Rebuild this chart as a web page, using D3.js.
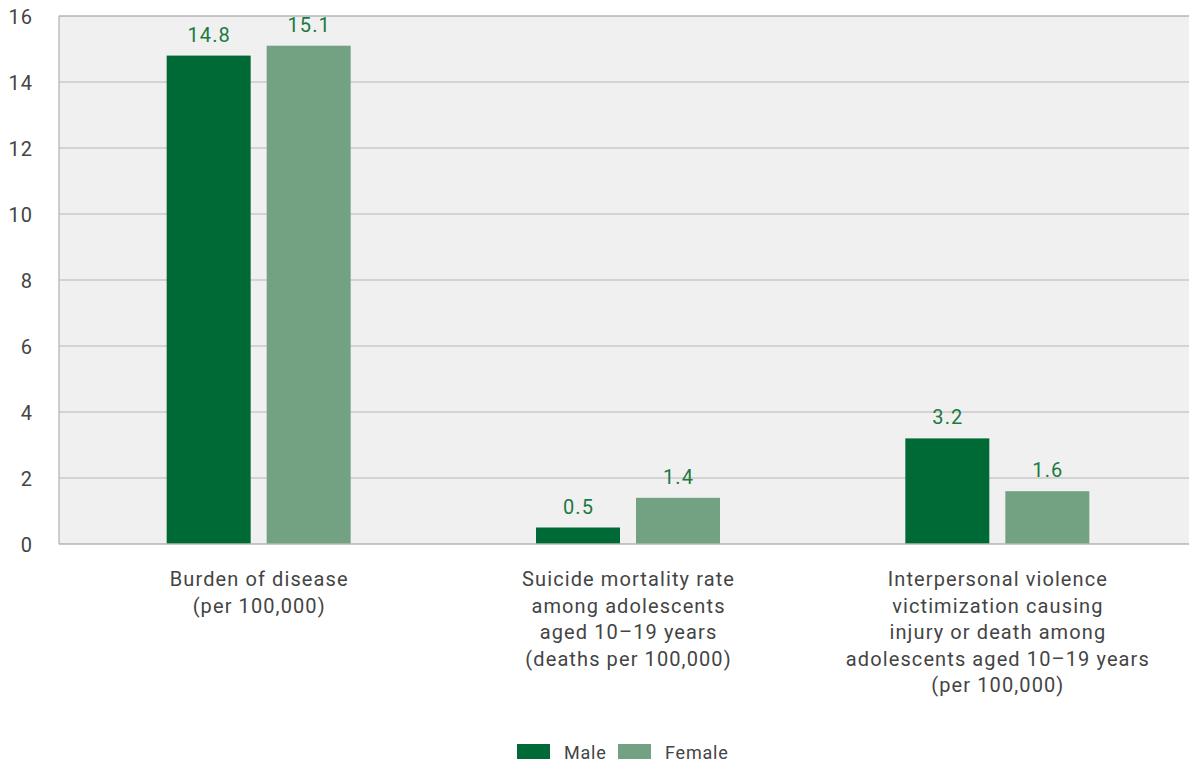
<!DOCTYPE html>
<html><head><meta charset="utf-8">
<script src="https://cdn.jsdelivr.net/npm/d3@7"></script>
<style>
html,body{margin:0;padding:0;background:#fff;}
svg{display:block;font-family:Roboto,"Liberation Sans",sans-serif;}
</style></head>
<body><svg id="c" width="1189" height="762"></svg>
<script>
const categories = [
  ["Burden of disease","(per 100,000)"],
  ["Suicide mortality rate","among adolescents","aged 10\u201319 years","(deaths per 100,000)"],
  ["Interpersonal violence","victimization causing","injury or death among","adolescents aged 10\u201319 years","(per 100,000)"]
];
const series = ["Male","Female"];
const maleValues = [14.8, 0.5, 3.2];
const femaleValues = [15.1, 1.4, 1.6];
const yTicks = [0,2,4,6,8,10,12,14,16];

const colors = {Male:"#006a37", Female:"#73a283"};
const labelColor = "#1a7a42";
const textColor = "#444";
const LS = 1.1;
const FS = 20;

const svg = d3.select("#c");
const plot = {left:59, right:1189, top:16, bottom:544};

const y = d3.scaleLinear().domain([0,16]).range([plot.bottom, plot.top]);
const x0 = d3.scaleBand().domain(d3.range(categories.length)).range([74,1182]);
const x1 = d3.scaleBand().domain(series).range([-92,92]).paddingInner(0.16);

// background
svg.append("rect").attr("x",plot.left).attr("y",plot.top)
  .attr("width",plot.right-plot.left).attr("height",plot.bottom-plot.top)
  .attr("fill","#f0f0f0");

// gridlines
svg.append("g").selectAll("line").data(yTicks.filter(t=>t>0 && t<16)).join("line")
  .attr("x1",plot.left).attr("x2",plot.right)
  .attr("y1",d=>y(d)).attr("y2",d=>y(d))
  .attr("stroke","#cacaca").attr("stroke-width",1.3);

// top & left border
svg.append("line").attr("x1",plot.left).attr("x2",plot.right).attr("y1",plot.top).attr("y2",plot.top)
  .attr("stroke","#b5b5b5").attr("stroke-width",1.3);
svg.append("line").attr("x1",plot.left).attr("x2",plot.left).attr("y1",plot.top).attr("y2",plot.bottom)
  .attr("stroke","#b5b5b5").attr("stroke-width",1.3);

// y axis labels
const yAxis = d3.axisLeft(y).tickValues(yTicks).tickSize(0).tickPadding(0).tickFormat(d3.format("d"));
const ya = svg.append("g").attr("transform",`translate(${32+LS},0)`).call(yAxis);
ya.select(".domain").remove();
ya.selectAll("text").attr("font-size",FS).attr("fill",textColor).attr("letter-spacing",LS)
  .attr("font-family","Roboto, 'Liberation Sans', sans-serif").attr("dy","0.35em");

// bars
const data = [];
categories.forEach((c,i)=>{
  data.push({i, s:"Male", v:maleValues[i]});
  data.push({i, s:"Female", v:femaleValues[i]});
});
const cx = i => x0(i) + x0.bandwidth()/2;
svg.append("g").selectAll("rect").data(data).join("rect")
  .attr("x",d=>cx(d.i)+x1(d.s)).attr("width",x1.bandwidth())
  .attr("y",d=>y(d.v)).attr("height",d=>y(0)-y(d.v))
  .attr("fill",d=>colors[d.s]);

// baseline
svg.append("line").attr("x1",plot.left).attr("x2",plot.right).attr("y1",plot.bottom).attr("y2",plot.bottom)
  .attr("stroke","#b5b5b5").attr("stroke-width",1.5);

// value labels
svg.append("g").selectAll("text").data(data).join("text")
  .attr("x",d=>cx(d.i)+x1(d.s)+x1.bandwidth()/2+LS/2)
  .attr("y",d=>y(d.v)-14)
  .attr("text-anchor","middle").attr("font-size",FS).attr("letter-spacing",LS).attr("fill",labelColor)
  .text(d=>d.v.toFixed(1));

// category labels
categories.forEach((lines,i)=>{
  const t = svg.append("text").attr("text-anchor","middle").attr("font-size",FS)
    .attr("letter-spacing",LS).attr("fill",textColor);
  lines.forEach((ln,k)=>{
    t.append("tspan").attr("x",cx(i)+LS/2).attr("y",586+k*26.6).text(ln);
  });
});

// legend
const legend = [{s:"Male",x:517},{s:"Female",x:618}];
const lg = svg.append("g");
legend.forEach(l=>{
  lg.append("rect").attr("x",l.x).attr("y",744).attr("width",33).attr("height",15).attr("fill",colors[l.s]);
  lg.append("text").attr("x",l.x+47).attr("y",759).attr("font-size",18).attr("letter-spacing",0.8)
    .attr("fill",textColor).text(l.s);
});
</script></body></html>
